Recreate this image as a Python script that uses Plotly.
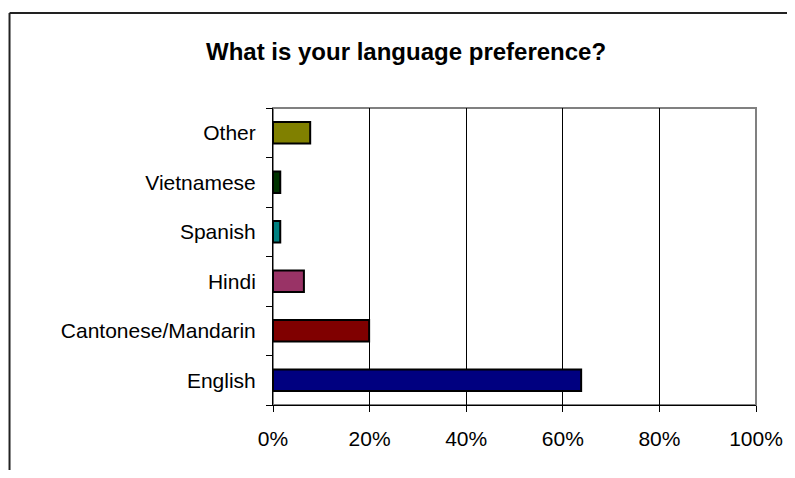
import plotly.graph_objects as go

# Data
languages = ["English", "Cantonese/Mandarin", "Hindi", "Spanish", "Vietnamese", "Other"]
shares = [0.638, 0.199, 0.064, 0.015, 0.015, 0.077]
bar_colors = ["#000080", "#800000", "#993366", "#008080", "#003300", "#808000"]
x_ticks = [0, 0.2, 0.4, 0.6, 0.8, 1.0]

font_family = "Arial, Liberation Sans, sans-serif"

fig = go.Figure()

fig.add_trace(go.Bar(
    y=languages,
    x=shares,
    orientation="h",
    marker=dict(color=bar_colors, line=dict(color="black", width=2)),
    showlegend=False,
))

# the page body has an 8px margin: size the figure so it fits without scrollbars
fig.update_layout(
    width=779,
    height=462,
    margin=dict(l=265, r=31, t=100, b=65),
    paper_bgcolor="white",
    plot_bgcolor="white",
    bargap=0.57,
    font=dict(family=font_family, size=21, color="black"),
    title=dict(
        text="<b>What is your language preference?</b>",
        x=0.511,
        xanchor="center",
        y=0.905,
        yanchor="middle",
        font=dict(family=font_family, size=24, color="black"),
    ),
    xaxis=dict(
        range=[0, 1],
        tickvals=x_ticks,
        tickformat=".0%",
        showgrid=True,
        gridcolor="black",
        gridwidth=1,
        showline=True,
        linecolor="black",
        linewidth=1,
        ticks="outside",
        ticklen=6,
        tickcolor="black",
        ticklabelstandoff=9,
        zeroline=False,
        automargin=False,
        fixedrange=True,
    ),
    yaxis=dict(
        categoryorder="array",
        categoryarray=languages,
        tickson="boundaries",
        ticks="outside",
        ticklen=6,
        tickcolor="black",
        showline=True,
        linecolor="black",
        linewidth=1,
        showgrid=False,
        ticklabelstandoff=12,
        automargin=False,
        fixedrange=True,
    ),
    shapes=[
        # gray box around the plot area (top and right edges)
        dict(type="rect", xref="paper", yref="paper", x0=0, x1=1, y0=0, y1=1,
             line=dict(color="#808080", width=2), layer="below"),
        # outer chart frame: top and left edges (others run off the page)
        dict(type="line", xref="paper", yref="paper",
             x0=-0.5455, x1=1.2, y0=1.32, y1=1.32,
             line=dict(color="#222222", width=2), layer="below"),
        dict(type="line", xref="paper", yref="paper",
             x0=-0.5455, x1=-0.5455, y0=-0.4, y1=1.32,
             line=dict(color="#222222", width=2), layer="below"),
    ],
)

fig.write_html("out.html")
